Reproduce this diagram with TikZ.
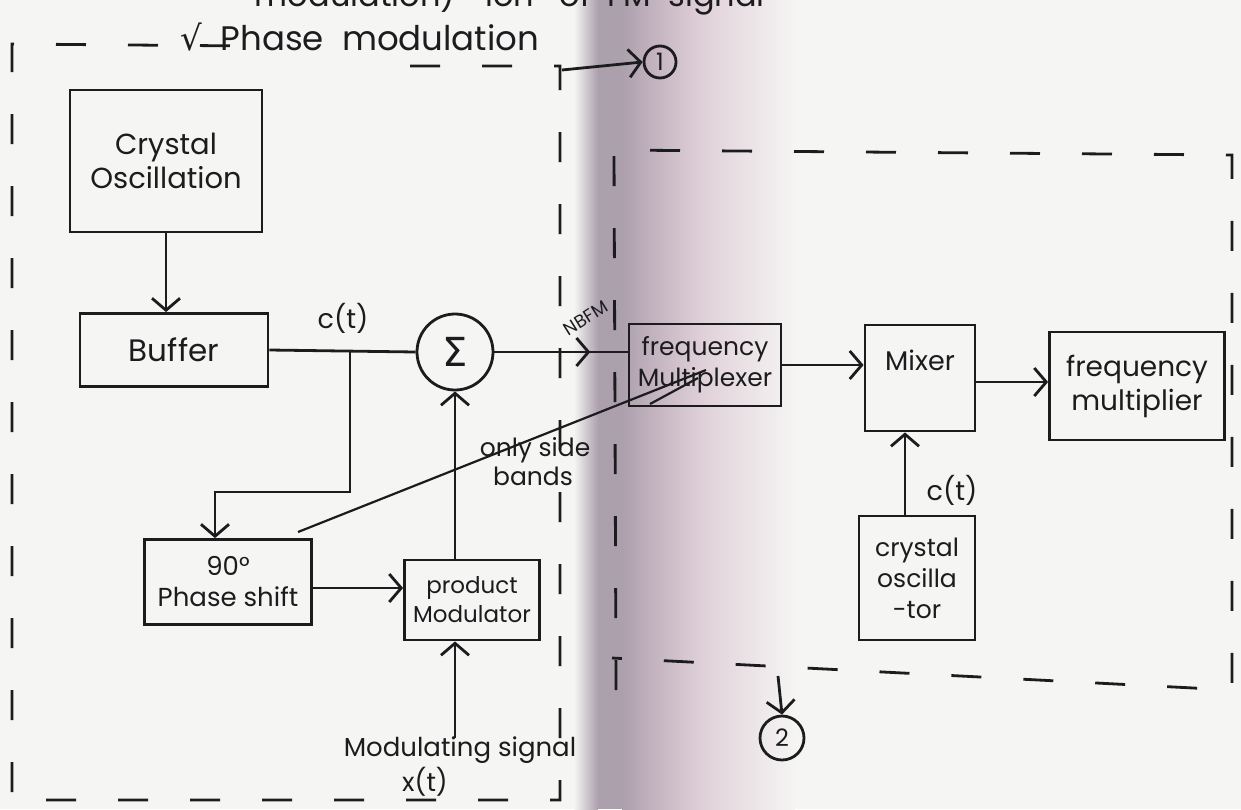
\documentclass[tikz,border=0pt]{standalone}
\usepackage{fontspec}
\setmainfont{Poppins}
\newfontfamily\symfont{DejaVu Sans}
\usetikzlibrary{arrows.meta,decorations.markings,calc}
\definecolor{inkc}{RGB}{28,28,30}
\definecolor{paper}{RGB}{245,245,243}
\definecolor{bandA}{RGB}{172,160,172}
\definecolor{bandB}{RGB}{196,180,192}
\definecolor{bandC}{RGB}{225,210,218}
\begin{document}
\begin{tikzpicture}[x=1pt,y=-1pt,
  ink/.style={draw=inkc, line width=2.8pt},
  blk/.style={ink, rectangle, align=center, inner sep=0pt, text=inkc, font=\fontsize{28}{32}\selectfont},
  lbl/.style={text=inkc, inner sep=0pt, align=center, font=\fontsize{26}{30}\selectfont},
  arr/.style={ink, -{Straight Barb[length=12pt,width=28pt,line width=2.8pt]}},
  dsh/.style={draw=inkc, line width=2.8pt, dash pattern=on 30pt off 42pt},
  ring/.style={ink, circle, inner sep=0pt, text=inkc, font=\fontsize{24}{26}\selectfont}
]
\useasboundingbox (0,0) rectangle (1241,809);
\fill[paper] (0,0) rectangle (1241,809);
% photo shading band
\shade[left color=paper, right color=bandA] (574,0) rectangle (598,809);
\fill[bandA] (598,0) rectangle (622,809);
\shade[left color=bandA, right color=bandB] (622,0) rectangle (655,809);
\shade[left color=bandB, right color=bandC] (655,0) rectangle (705,809);
\shade[left color=bandC, right color=paper] (705,0) rectangle (795,809);

% clipped heading text at the top edge
\node[lbl, anchor=base, font=\fontsize{32}{34}\selectfont] (head1) at (355,6) {modulation)};
\node[lbl, anchor=base west, font=\fontsize{32}{34}\selectfont] (head2) at (485,6) {ion \ \ of \ FM \ signal};

% title
\node[lbl, anchor=base, font=\fontsize{34}{38}\selectfont] (title) at (360,50) {{\symfont √}\ \ Phase \ modulation};

% dashed enclosure 1
\draw[dsh] (410,66) -- (560,66) -- (560,800) -- (12,800) -- (12,44) -- (250,46);
\coordinate (corner1) at (562,70);
\node[ring, minimum size=32pt] (c1) at (660,62) {1};
\draw[arr] (corner1) -- (c1.west);

% dashed enclosure 2
\draw[dsh] (616,690) -- (614,150) -- (1232,155) -- (1232,690) -- (612,658);
\coordinate (corner2) at (778,676);
\node[ring, minimum size=44pt] (c2) at (782,738) {2};
\draw[arr] (corner2) -- (c2.north);

% blocks
\node[blk, minimum width=192pt, minimum height=142pt, font=\fontsize{29}{34}\selectfont] (xo1) at (166,161) {Crystal\\Oscillation};
\node[blk, minimum width=188pt, minimum height=73pt, font=\fontsize{31}{34}\selectfont] (buf) at (174,350) {Buffer};
\node[ring, minimum size=76pt, font=\fontsize{40}{42}\selectfont] (sig) at (455,352) {\symfont Σ};
\node[blk, minimum width=167pt, minimum height=85pt, font=\fontsize{26}{31}\selectfont] (ps) at (228,582) {90°\\Phase shift};
\node[blk, minimum width=135pt, minimum height=80pt, font=\fontsize{23}{29}\selectfont] (pm) at (472,600) {product\\Modulator};
\node[blk, minimum width=152pt, minimum height=82pt, font=\fontsize{25}{31}\selectfont] (fx) at (705,365) {frequency\\Multiplexer};
\node[blk, minimum width=110pt, minimum height=106pt, font=\fontsize{27}{36}\selectfont] (mx) at (920,378) {Mixer\\\mbox{}};
\node[blk, minimum width=175pt, minimum height=108pt, font=\fontsize{28}{34}\selectfont] (fm) at (1137,386) {frequency\\multiplier};
\node[blk, minimum width=116pt, minimum height=124pt, font=\fontsize{25}{31}\selectfont] (xo2) at (917,578) {crystal\\oscilla\\-tor};

% connectors
\draw[arr] (xo1.south) -- (xo1.south |- buf.north);
\draw[ink] (buf.east) -- (sig.west);
\node[lbl, font=\fontsize{27}{30}\selectfont] (ct1) at (343,318) {c(t)};
\coordinate (br) at (350,350);
\coordinate (bend) at (350,492);
\draw[arr] (br) -- (bend) -| ([xshift=-13pt]ps.north);
\draw[arr] ([yshift=-6pt]ps.east) -- ([yshift=-6pt]ps.east -| pm.west);
\draw[arr] (pm.north -| sig.south) -- (sig.south);
\coordinate (msig) at (455,738);
\draw[arr] (msig) -- (msig |- pm.south);
\node[lbl, font=\fontsize{26}{30}\selectfont] (ms1) at (460,750) {Modulating signal};
\node[lbl, font=\fontsize{26}{30}\selectfont] (ms2) at (425,782) {x(t)};
\node[lbl, align=left, font=\fontsize{25}{29}\selectfont] (sb) at (535,462) {only side\\\ \ bands};
\draw[ink, postaction={decorate}, decoration={markings, mark=at position 0.72 with {\arrow{Straight Barb[length=12pt,width=28pt,line width=2.8pt]}}}] (sig.east) -- (sig.east -| fx.west);
\node[lbl, rotate=32, font=\fontsize{18}{20}\selectfont] (nb) at (586,318) {NBFM};
\coordinate (s1) at (298,532);
\coordinate (s2) at (706,370);
\coordinate (s3) at (650,404);
\coordinate (s4) at (698,378);
\draw[ink, line width=2.2pt] (s1) -- (s2);
\draw[ink, line width=2.2pt] (s3) -- (s4);
\draw[arr] (fx.east) -- (fx.east -| mx.west);
\draw[arr] ([yshift=-4pt]mx.east) -- ([yshift=-4pt]mx.east -| fm.west);
\draw[arr] ([xshift=-12pt]xo2.north) -- ([xshift=-12pt]xo2.north |- mx.south);
\node[lbl, font=\fontsize{27}{30}\selectfont] (ct2) at (952,490) {c(t)};
\end{tikzpicture}
\end{document}
